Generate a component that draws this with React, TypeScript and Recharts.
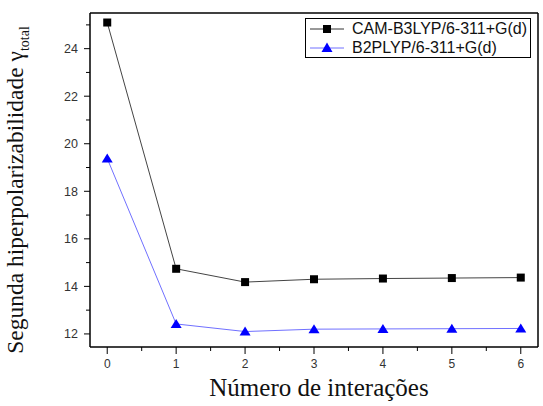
import React from 'react';
import { LineChart, Line, XAxis, YAxis, ReferenceLine } from 'recharts';

const iterations = [0, 1, 2, 3, 4, 5, 6];
const camB3lyp = [25.1, 14.74, 14.18, 14.3, 14.33, 14.35, 14.37];
const b2plyp = [19.38, 12.42, 12.1, 12.2, 12.21, 12.22, 12.23];
const xTicks = [0, 0.5, 1, 1.5, 2, 2.5, 3, 3.5, 4, 4.5, 5, 5.5, 6];
const yTicks = [12, 13, 14, 15, 16, 17, 18, 19, 20, 21, 22, 23, 24, 25];
const seriesNames = ['CAM-B3LYP/6-311+G(d)', 'B2PLYP/6-311+G(d)'];

const data = iterations.map((it, i) => ({ it, cam: camB3lyp[i], b2: b2plyp[i] }));

const XTick = (props: any) => {
  const { x, y, payload } = props;
  const major = Number.isInteger(payload.value);
  return (
    <g>
      <line x1={x} x2={x} y1={y} y2={y + (major ? 7 : 4)} stroke="#000" />
      {major && (
        <text x={x} y={y + 21} textAnchor="middle" fontSize={12} fill="#333" fontFamily="Arial, Liberation Sans">
          {payload.value}
        </text>
      )}
    </g>
  );
};

const YTick = (props: any) => {
  const { x, y, payload } = props;
  const major = payload.value % 2 === 0;
  return (
    <g>
      <line x1={x} x2={x - (major ? 6 : 4)} y1={y} y2={y} stroke="#000" />
      {major && (
        <text x={x - 12} y={y + 4.5} textAnchor="end" fontSize={12.5} fill="#333" fontFamily="Arial, Liberation Sans">
          {payload.value}
        </text>
      )}
    </g>
  );
};

const SquareDot = (props: any) => {
  const { cx, cy } = props;
  return <rect x={cx - 4} y={cy - 4} width={8} height={8} fill="#000" />;
};

const TriangleDot = (props: any) => {
  const { cx, cy } = props;
  return <polygon points={`${cx},${cy - 5} ${cx - 5.5},${cy + 4} ${cx + 5.5},${cy + 4}`} fill="#0000ff" />;
};

const LegendBox = () => (
  <div style={{ position: 'absolute', left: 305, top: 18, border: '1px solid #000', width: 226, height: 40, boxSizing: 'border-box', padding: '0 0 0 4px', fontFamily: 'Arial, Liberation Sans', fontSize: 16, background: '#fff' }}>
    {seriesNames.map((name, i) => (
      <div key={name} style={{ display: 'flex', alignItems: 'center', height: 19 }}>
        <svg width={38} height={14}>
          <line x1={0} x2={34} y1={7} y2={7} stroke={i === 0 ? '#333' : '#7070ff'} />
          {i === 0 ? <rect x={13} y={3} width={8} height={8} fill="#000" /> : <polygon points="17,1.5 11.5,11 22.5,11" fill="#0000ff" />}
        </svg>
        <span style={{ marginLeft: 4, color: '#111', lineHeight: '19px' }}>{name}</span>
      </div>
    ))}
  </div>
);

export default function App() {
  return (
    <div style={{ position: 'absolute', left: 0, top: 0, width: 543, height: 406, background: '#fff' }}>
      <LineChart width={543} height={406} data={data} margin={{ top: 13, right: 5, left: 0, bottom: 0 }}>
        <XAxis
          dataKey="it"
          type="number"
          domain={[-0.25, 6.25]}
          ticks={xTicks}
          interval={0}
          tick={<XTick />}
          tickLine={false}
          tickSize={0}
          tickMargin={0}
          height={59}
          axisLine={{ stroke: '#000', strokeWidth: 1.5 }}
          allowDataOverflow
        />
        <YAxis
          type="number"
          domain={[11.45, 25.5]}
          ticks={yTicks}
          interval={0}
          tick={<YTick />}
          tickLine={false}
          tickSize={0}
          tickMargin={0}
          width={90}
          axisLine={{ stroke: '#000', strokeWidth: 1.5 }}
          allowDataOverflow
        />
        <ReferenceLine y={25.5} stroke="#000" strokeWidth={1.5} ifOverflow="visible" />
        <ReferenceLine x={6.25} stroke="#000" strokeWidth={1.5} ifOverflow="visible" />
        <Line dataKey="cam" stroke="#444" strokeWidth={1} dot={<SquareDot />} isAnimationActive={false} />
        <Line dataKey="b2" stroke="#7070ff" strokeWidth={1} dot={<TriangleDot />} isAnimationActive={false} />
      </LineChart>
      <LegendBox />
      <div style={{ position: 'absolute', left: 0, top: 374, width: 543, paddingLeft: 95, boxSizing: 'border-box', textAlign: 'center', fontFamily: 'Liberation Serif, Times New Roman, serif', fontSize: 25, color: '#111', lineHeight: '28px' }}>
        Número de interações
      </div>
      <div style={{ position: 'absolute', left: 20, top: 190, width: 0, height: 0 }}>
        <div style={{ position: 'absolute', transform: 'translate(-50%, -50%) rotate(-90deg)', whiteSpace: 'nowrap', fontFamily: 'Liberation Serif, Times New Roman, serif', fontSize: 23.5, color: '#111', lineHeight: '26px' }}>
          Segunda hiperpolarizabilidade γ<sub style={{ fontSize: 14 }}>total</sub>
        </div>
      </div>
    </div>
  );
}
